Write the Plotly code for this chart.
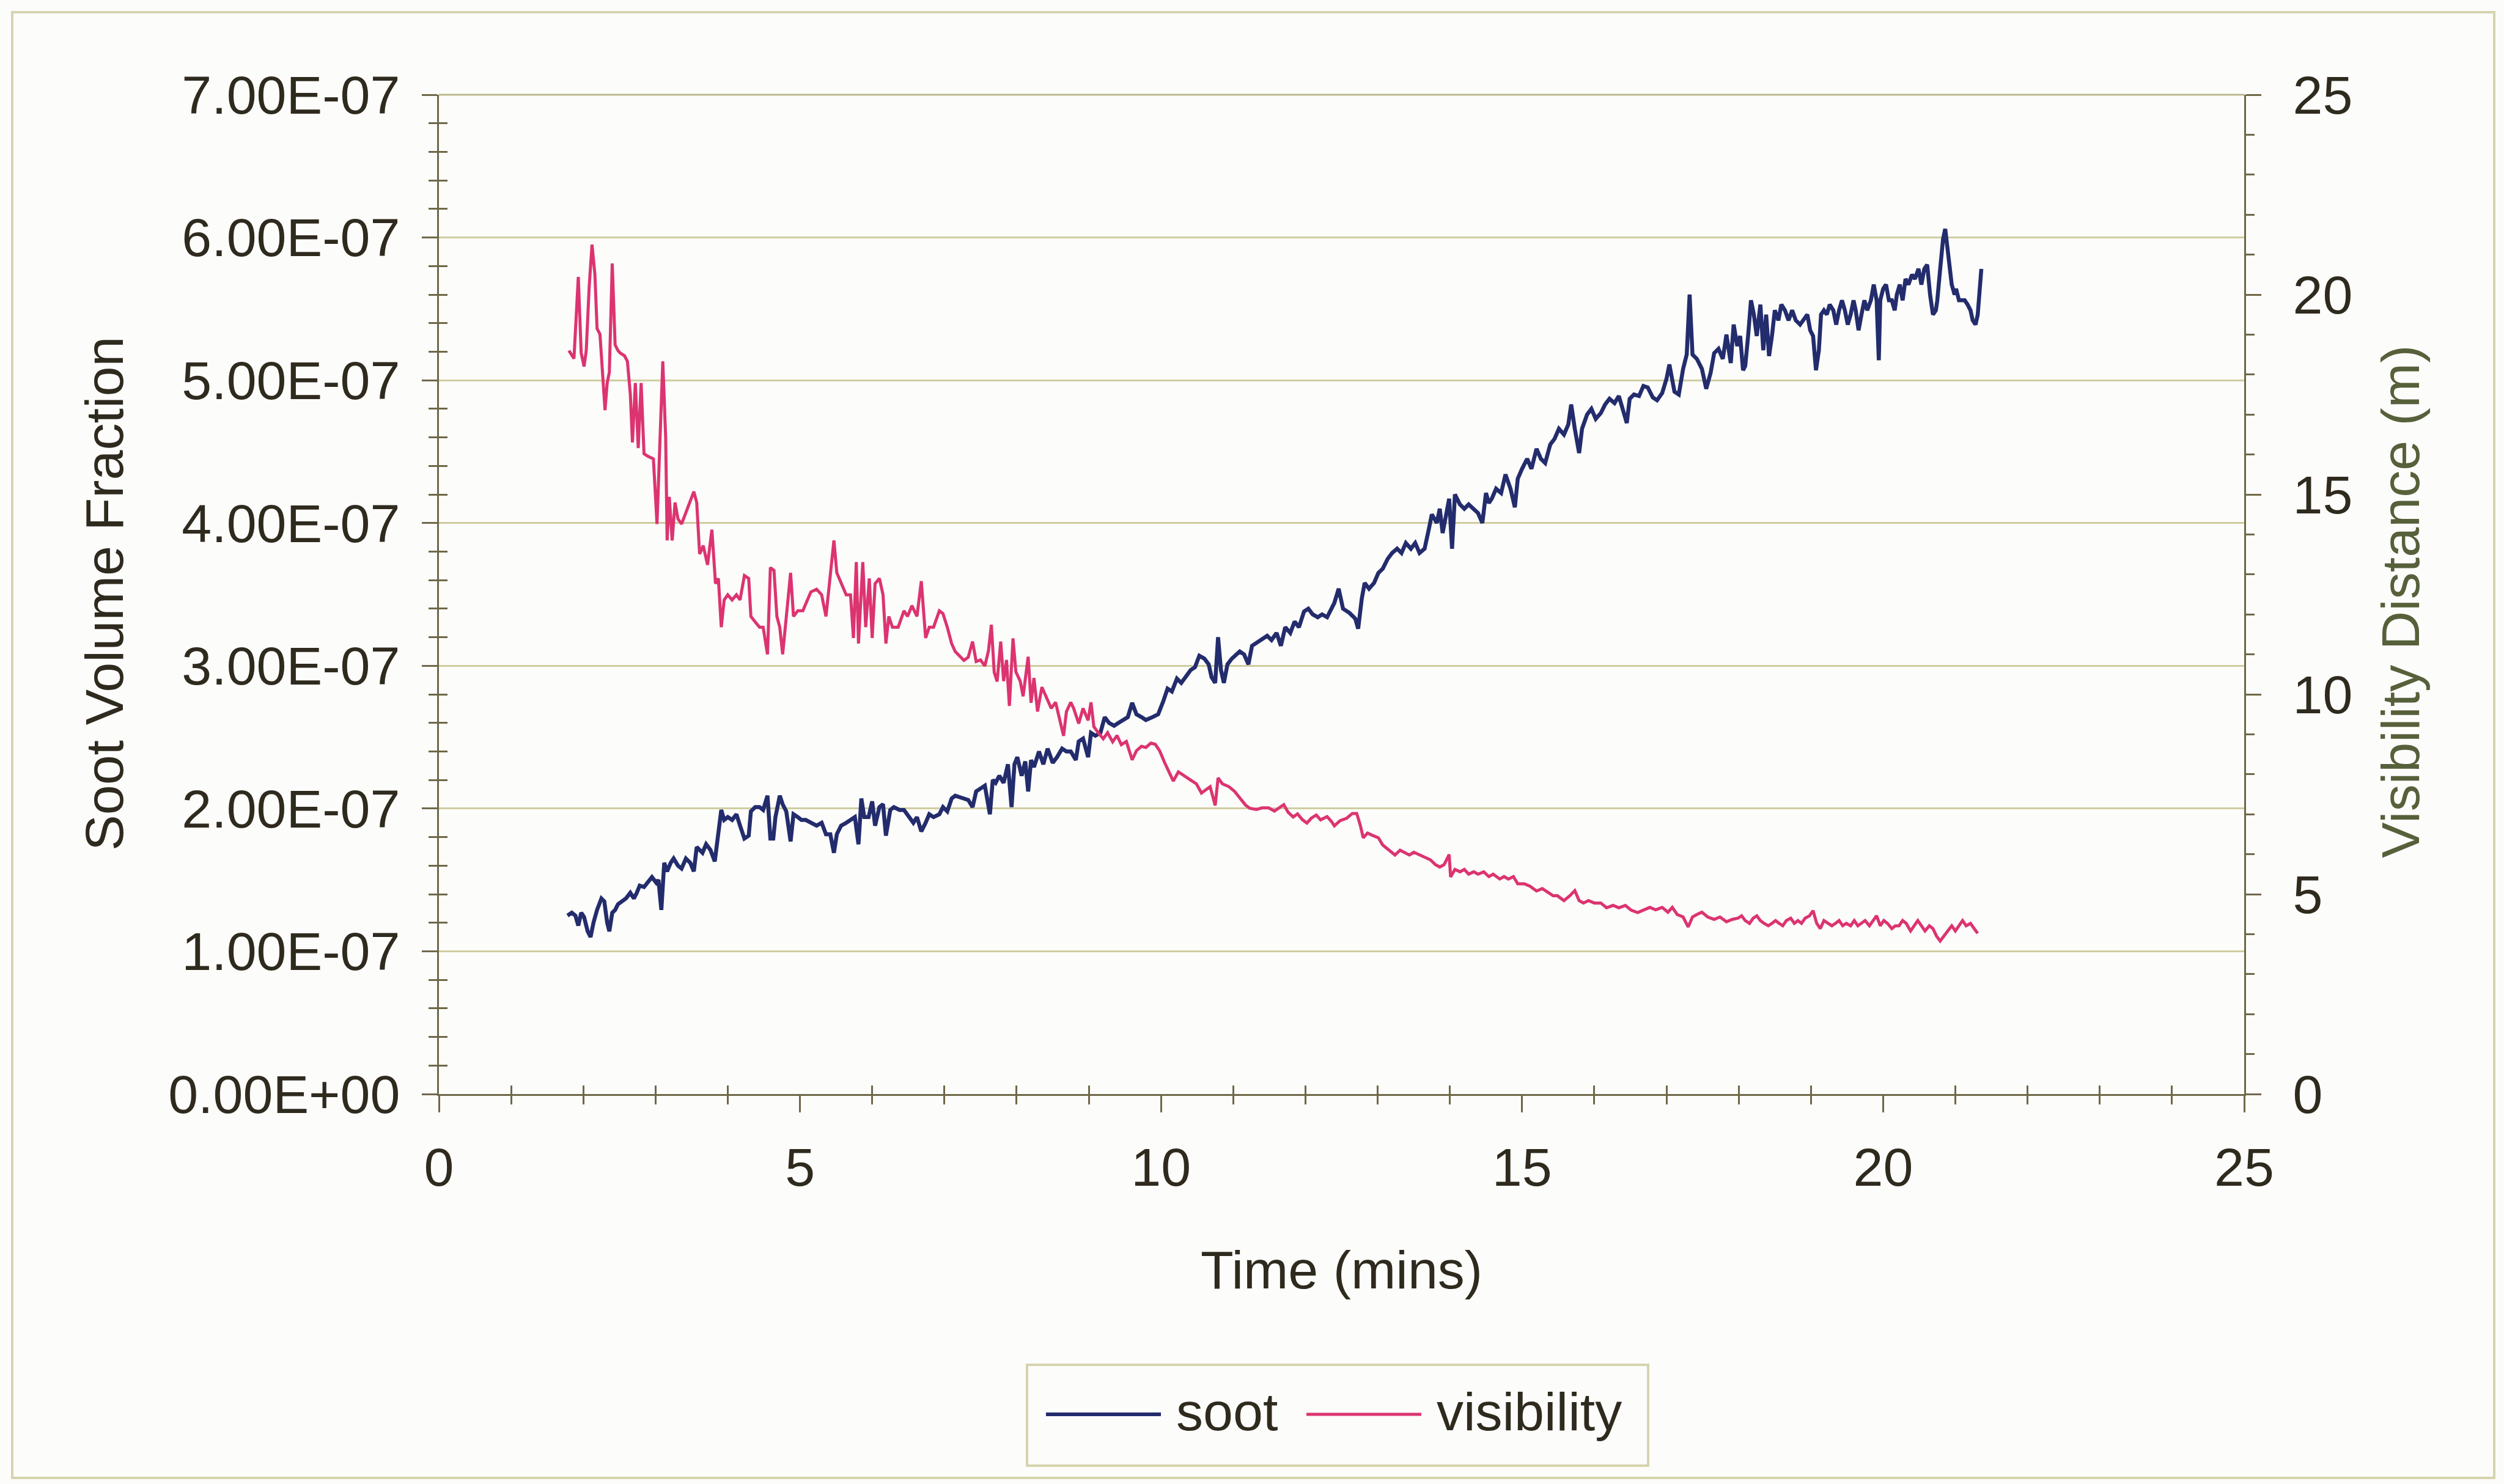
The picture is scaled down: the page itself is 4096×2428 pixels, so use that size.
import plotly.graph_objects as go

# ---------------------------------------------------------------------------
# Measured series: soot volume fraction (left axis) and visibility (right axis)
# ---------------------------------------------------------------------------
SOOT_TIME = [
    1.78, 1.84, 1.89, 1.93, 1.97, 2.01, 2.06, 2.10, 2.14, 2.19, 2.25, 2.29, 2.33, 2.36, 2.40,
    2.44, 2.48, 2.53, 2.59, 2.65, 2.70, 2.74, 2.78, 2.84, 2.89, 2.95, 3.01, 3.04, 3.08, 3.12,
    3.16, 3.21, 3.25, 3.31, 3.36, 3.42, 3.48, 3.53, 3.57, 3.61, 3.65, 3.70, 3.76, 3.82, 3.87,
    3.91, 3.95, 4.00, 4.06, 4.12, 4.17, 4.23, 4.29, 4.32, 4.38, 4.44, 4.49, 4.55, 4.59, 4.63,
    4.66, 4.72, 4.76, 4.81, 4.87, 4.91, 4.97, 5.02, 5.08, 5.15, 5.23, 5.30, 5.36, 5.42, 5.47,
    5.51, 5.57, 5.64, 5.70, 5.76, 5.81, 5.85, 5.89, 5.95, 6.00, 6.04, 6.10, 6.15, 6.19, 6.25,
    6.30, 6.38, 6.44, 6.51, 6.57, 6.62, 6.68, 6.74, 6.79, 6.85, 6.93, 6.98, 7.04, 7.10, 7.15,
    7.27, 7.33, 7.39, 7.44, 7.50, 7.56, 7.63, 7.67, 7.71, 7.76, 7.82, 7.88, 7.93, 7.97, 8.01,
    8.07, 8.12, 8.16, 8.20, 8.24, 8.31, 8.37, 8.43, 8.50, 8.56, 8.63, 8.69, 8.75, 8.82, 8.86,
    8.92, 8.99, 9.03, 9.09, 9.16, 9.22, 9.28, 9.35, 9.41, 9.47, 9.54, 9.60, 9.66, 9.73, 9.79,
    9.88, 9.96, 10.03, 10.09, 10.15, 10.22, 10.28, 10.34, 10.41, 10.47, 10.53, 10.60, 10.66, 10.70, 10.75,
    10.79, 10.83, 10.87, 10.92, 10.98, 11.02, 11.09, 11.15, 11.21, 11.26, 11.32, 11.40, 11.47, 11.53, 11.60,
    11.66, 11.72, 11.79, 11.85, 11.91, 11.98, 12.04, 12.10, 12.17, 12.23, 12.30, 12.36, 12.40, 12.46, 12.52,
    12.61, 12.69, 12.73, 12.78, 12.82, 12.88, 12.95, 13.01, 13.07, 13.14, 13.20, 13.27, 13.33, 13.39, 13.46,
    13.52, 13.58, 13.65, 13.71, 13.75, 13.82, 13.86, 13.90, 13.94, 13.99, 14.03, 14.07, 14.14, 14.20, 14.26,
    14.33, 14.39, 14.45, 14.50, 14.54, 14.58, 14.64, 14.71, 14.77, 14.84, 14.90, 14.94, 15.00, 15.07, 15.13,
    15.20, 15.26, 15.32, 15.39, 15.45, 15.51, 15.58, 15.64, 15.68, 15.73, 15.79, 15.83, 15.90, 15.96, 16.02,
    16.09, 16.15, 16.21, 16.28, 16.34, 16.41, 16.45, 16.49, 16.55, 16.62, 16.68, 16.74, 16.81, 16.87, 16.94,
    17.00, 17.04, 17.11, 17.17, 17.23, 17.28, 17.32, 17.36, 17.42, 17.49, 17.55, 17.61, 17.66, 17.72, 17.78,
    17.83, 17.89, 17.93, 17.98, 18.02, 18.06, 18.09, 18.13, 18.17, 18.21, 18.25, 18.30, 18.34, 18.38, 18.42,
    18.46, 18.50, 18.55, 18.59, 18.64, 18.69, 18.74, 18.79, 18.85, 18.90, 18.95, 18.99, 19.03, 19.07, 19.11,
    19.14, 19.18, 19.22, 19.26, 19.31, 19.35, 19.39, 19.43, 19.47, 19.51, 19.55, 19.59, 19.62, 19.66, 19.70,
    19.74, 19.78, 19.83, 19.87, 19.91, 19.94, 19.96, 20.00, 20.04, 20.08, 20.12, 20.16, 20.19, 20.23, 20.27,
    20.31, 20.35, 20.40, 20.44, 20.49, 20.53, 20.57, 20.61, 20.65, 20.69, 20.73, 20.75, 20.79, 20.83, 20.86,
    20.88, 20.91, 20.95, 20.99, 21.01, 21.05, 21.09, 21.13, 21.17, 21.21, 21.24, 21.28, 21.31, 21.34, 21.36,
]

SOOT_FRACTION = [
    1.25e-7, 1.27e-7, 1.25e-7, 1.18e-7, 1.27e-7, 1.24e-7, 1.14e-7, 1.10e-7, 1.20e-7, 1.29e-7, 1.37e-7, 1.35e-7, 1.20e-7, 1.14e-7, 1.27e-7,
    1.29e-7, 1.33e-7, 1.35e-7, 1.37e-7, 1.41e-7, 1.37e-7, 1.41e-7, 1.46e-7, 1.45e-7, 1.48e-7, 1.52e-7, 1.48e-7, 1.50e-7, 1.29e-7, 1.62e-7,
    1.56e-7, 1.62e-7, 1.65e-7, 1.60e-7, 1.58e-7, 1.65e-7, 1.62e-7, 1.56e-7, 1.73e-7, 1.71e-7, 1.69e-7, 1.75e-7, 1.71e-7, 1.63e-7, 1.86e-7,
    1.99e-7, 1.92e-7, 1.94e-7, 1.92e-7, 1.96e-7, 1.88e-7, 1.79e-7, 1.81e-7, 1.98e-7, 2.01e-7, 2.01e-7, 1.99e-7, 2.09e-7, 1.79e-7, 1.79e-7,
    1.94e-7, 2.09e-7, 2.03e-7, 1.98e-7, 1.77e-7, 1.96e-7, 1.94e-7, 1.92e-7, 1.92e-7, 1.90e-7, 1.88e-7, 1.90e-7, 1.82e-7, 1.82e-7, 1.69e-7,
    1.82e-7, 1.88e-7, 1.90e-7, 1.92e-7, 1.94e-7, 1.75e-7, 2.07e-7, 1.94e-7, 1.94e-7, 2.05e-7, 1.88e-7, 2.01e-7, 2.03e-7, 1.81e-7, 1.99e-7,
    2.01e-7, 1.99e-7, 1.99e-7, 1.94e-7, 1.90e-7, 1.94e-7, 1.84e-7, 1.90e-7, 1.96e-7, 1.94e-7, 1.96e-7, 2.01e-7, 1.98e-7, 2.07e-7, 2.09e-7,
    2.07e-7, 2.06e-7, 2.01e-7, 2.12e-7, 2.14e-7, 2.16e-7, 1.96e-7, 2.20e-7, 2.18e-7, 2.23e-7, 2.18e-7, 2.31e-7, 2.01e-7, 2.31e-7, 2.36e-7,
    2.23e-7, 2.33e-7, 2.12e-7, 2.34e-7, 2.29e-7, 2.40e-7, 2.31e-7, 2.42e-7, 2.32e-7, 2.36e-7, 2.42e-7, 2.40e-7, 2.40e-7, 2.34e-7, 2.47e-7,
    2.49e-7, 2.36e-7, 2.53e-7, 2.51e-7, 2.53e-7, 2.64e-7, 2.60e-7, 2.58e-7, 2.60e-7, 2.62e-7, 2.64e-7, 2.74e-7, 2.66e-7, 2.64e-7, 2.62e-7,
    2.64e-7, 2.66e-7, 2.75e-7, 2.84e-7, 2.82e-7, 2.91e-7, 2.88e-7, 2.92e-7, 2.97e-7, 2.99e-7, 3.07e-7, 3.05e-7, 3.01e-7, 2.92e-7, 2.88e-7,
    3.20e-7, 2.97e-7, 2.88e-7, 3.01e-7, 3.05e-7, 3.07e-7, 3.10e-7, 3.08e-7, 3.01e-7, 3.14e-7, 3.16e-7, 3.18e-7, 3.21e-7, 3.18e-7, 3.23e-7,
    3.14e-7, 3.27e-7, 3.23e-7, 3.31e-7, 3.27e-7, 3.38e-7, 3.40e-7, 3.36e-7, 3.34e-7, 3.36e-7, 3.34e-7, 3.40e-7, 3.44e-7, 3.54e-7, 3.40e-7,
    3.37e-7, 3.33e-7, 3.26e-7, 3.47e-7, 3.58e-7, 3.54e-7, 3.58e-7, 3.65e-7, 3.68e-7, 3.75e-7, 3.79e-7, 3.82e-7, 3.79e-7, 3.86e-7, 3.82e-7,
    3.86e-7, 3.79e-7, 3.82e-7, 3.96e-7, 4.06e-7, 4.00e-7, 4.10e-7, 3.93e-7, 4.03e-7, 4.17e-7, 3.82e-7, 4.20e-7, 4.13e-7, 4.10e-7, 4.13e-7,
    4.10e-7, 4.07e-7, 4.00e-7, 4.21e-7, 4.14e-7, 4.17e-7, 4.24e-7, 4.21e-7, 4.34e-7, 4.24e-7, 4.11e-7, 4.31e-7, 4.38e-7, 4.45e-7, 4.38e-7,
    4.52e-7, 4.45e-7, 4.42e-7, 4.55e-7, 4.59e-7, 4.66e-7, 4.62e-7, 4.69e-7, 4.83e-7, 4.66e-7, 4.49e-7, 4.66e-7, 4.76e-7, 4.80e-7, 4.73e-7,
    4.77e-7, 4.83e-7, 4.87e-7, 4.84e-7, 4.89e-7, 4.77e-7, 4.70e-7, 4.87e-7, 4.90e-7, 4.89e-7, 4.96e-7, 4.95e-7, 4.88e-7, 4.86e-7, 4.91e-7,
    5.01e-7, 5.11e-7, 4.92e-7, 4.90e-7, 5.08e-7, 5.18e-7, 5.60e-7, 5.18e-7, 5.15e-7, 5.08e-7, 4.94e-7, 5.05e-7, 5.19e-7, 5.22e-7, 5.15e-7,
    5.32e-7, 5.12e-7, 5.39e-7, 5.24e-7, 5.31e-7, 5.07e-7, 5.10e-7, 5.31e-7, 5.56e-7, 5.46e-7, 5.31e-7, 5.53e-7, 5.21e-7, 5.46e-7, 5.17e-7,
    5.31e-7, 5.49e-7, 5.42e-7, 5.53e-7, 5.49e-7, 5.42e-7, 5.49e-7, 5.42e-7, 5.39e-7, 5.42e-7, 5.46e-7, 5.35e-7, 5.31e-7, 5.07e-7, 5.21e-7,
    5.46e-7, 5.49e-7, 5.46e-7, 5.53e-7, 5.49e-7, 5.39e-7, 5.49e-7, 5.56e-7, 5.49e-7, 5.39e-7, 5.46e-7, 5.56e-7, 5.49e-7, 5.35e-7, 5.46e-7,
    5.56e-7, 5.49e-7, 5.56e-7, 5.67e-7, 5.56e-7, 5.14e-7, 5.56e-7, 5.64e-7, 5.67e-7, 5.56e-7, 5.56e-7, 5.49e-7, 5.60e-7, 5.67e-7, 5.56e-7,
    5.71e-7, 5.67e-7, 5.74e-7, 5.71e-7, 5.78e-7, 5.67e-7, 5.78e-7, 5.81e-7, 5.60e-7, 5.46e-7, 5.49e-7, 5.56e-7, 5.78e-7, 5.99e-7, 6.06e-7,
    5.96e-7, 5.85e-7, 5.67e-7, 5.60e-7, 5.64e-7, 5.56e-7, 5.56e-7, 5.56e-7, 5.53e-7, 5.49e-7, 5.42e-7, 5.39e-7, 5.46e-7, 5.64e-7, 5.78e-7,
]

VIS_TIME = [
    1.80, 1.87, 1.93, 1.97, 2.01, 2.04, 2.08, 2.12, 2.16, 2.19, 2.23, 2.27, 2.30, 2.33, 2.36,
    2.40, 2.44, 2.48, 2.51, 2.57, 2.61, 2.65, 2.68, 2.72, 2.76, 2.80, 2.84, 2.89, 2.97, 3.02,
    3.06, 3.10, 3.14, 3.16, 3.19, 3.23, 3.27, 3.31, 3.36, 3.42, 3.48, 3.53, 3.57, 3.61, 3.66,
    3.72, 3.78, 3.83, 3.87, 3.91, 3.95, 4.00, 4.06, 4.12, 4.17, 4.23, 4.29, 4.32, 4.38, 4.44,
    4.49, 4.55, 4.59, 4.64, 4.68, 4.72, 4.76, 4.81, 4.87, 4.91, 4.97, 5.04, 5.10, 5.15, 5.23,
    5.30, 5.36, 5.42, 5.47, 5.51, 5.57, 5.64, 5.70, 5.74, 5.78, 5.81, 5.87, 5.91, 5.96, 6.00,
    6.04, 6.10, 6.15, 6.19, 6.23, 6.28, 6.36, 6.44, 6.49, 6.55, 6.62, 6.68, 6.74, 6.79, 6.85,
    6.93, 6.98, 7.04, 7.10, 7.15, 7.27, 7.33, 7.39, 7.44, 7.50, 7.56, 7.61, 7.65, 7.69, 7.73,
    7.78, 7.82, 7.86, 7.90, 7.95, 7.99, 8.05, 8.09, 8.16, 8.20, 8.24, 8.29, 8.35, 8.41, 8.48,
    8.54, 8.60, 8.65, 8.69, 8.75, 8.79, 8.86, 8.92, 8.99, 9.03, 9.07, 9.13, 9.20, 9.26, 9.33,
    9.39, 9.45, 9.52, 9.60, 9.66, 9.73, 9.79, 9.86, 9.92, 9.98, 10.05, 10.11, 10.17, 10.24, 10.30,
    10.36, 10.43, 10.49, 10.56, 10.62, 10.68, 10.75, 10.79, 10.85, 10.94, 11.02, 11.11, 11.17, 11.23, 11.32,
    11.40, 11.49, 11.57, 11.64, 11.70, 11.76, 11.83, 11.89, 11.96, 12.02, 12.08, 12.15, 12.21, 12.30, 12.36,
    12.40, 12.48, 12.57, 12.65, 12.71, 12.76, 12.80, 12.86, 12.93, 13.01, 13.07, 13.16, 13.24, 13.31, 13.37,
    13.44, 13.50, 13.58, 13.67, 13.73, 13.80, 13.86, 13.92, 13.99, 14.01, 14.07, 14.14, 14.20, 14.26, 14.33,
    14.39, 14.47, 14.54, 14.60, 14.69, 14.75, 14.81, 14.88, 14.94, 15.03, 15.11, 15.20, 15.28, 15.37, 15.43,
    15.49, 15.58, 15.66, 15.73, 15.79, 15.85, 15.92, 16.00, 16.09, 16.17, 16.26, 16.34, 16.43, 16.51, 16.60,
    16.68, 16.77, 16.85, 16.94, 17.02, 17.08, 17.15, 17.23, 17.30, 17.36, 17.42, 17.49, 17.57, 17.66, 17.74,
    17.83, 17.91, 17.99, 18.04, 18.09, 18.15, 18.20, 18.25, 18.30, 18.35, 18.41, 18.46, 18.51, 18.56, 18.61,
    18.66, 18.72, 18.77, 18.82, 18.87, 18.92, 18.98, 19.03, 19.08, 19.13, 19.18, 19.24, 19.29, 19.34, 19.39,
    19.44, 19.49, 19.55, 19.60, 19.65, 19.70, 19.75, 19.81, 19.86, 19.91, 19.96, 20.01, 20.06, 20.12, 20.17,
    20.22, 20.27, 20.32, 20.38, 20.43, 20.48, 20.53, 20.58, 20.64, 20.69, 20.74, 20.79, 20.84, 20.89, 20.95,
    21.00, 21.05, 21.10, 21.15, 21.21, 21.26, 21.31,
]

VIS_DISTANCE = [
    18.60, 18.40, 20.44, 18.54, 18.20, 18.60, 20.17, 21.25, 20.50, 19.15, 19.01, 17.79, 17.11, 17.79, 18.06,
    20.78, 18.74, 18.60, 18.54, 18.47, 18.33, 17.52, 16.30, 17.79, 16.16, 17.79, 16.02, 15.96, 15.89, 14.26,
    16.43, 18.33, 16.43, 13.85, 14.94, 13.85, 14.80, 14.39, 14.26, 14.53, 14.80, 15.07, 14.80, 13.51, 13.72,
    13.24, 14.12, 12.77, 12.90, 11.68, 12.36, 12.49, 12.36, 12.49, 12.36, 12.97, 12.90, 11.95, 11.81, 11.68,
    11.68, 11.00, 13.17, 13.10, 11.95, 11.68, 11.00, 11.95, 13.04, 11.95, 12.09, 12.09, 12.36, 12.56, 12.63,
    12.49, 11.95, 12.90, 13.85, 13.04, 12.77, 12.49, 12.49, 11.41, 13.31, 11.27, 13.31, 11.68, 12.90, 11.41,
    12.77, 12.90, 12.49, 11.27, 11.95, 11.68, 11.68, 12.09, 11.95, 12.22, 11.95, 12.83, 11.41, 11.68, 11.68,
    12.09, 12.02, 11.68, 11.27, 11.07, 10.85, 10.93, 11.32, 10.82, 10.86, 10.71, 11.09, 11.74, 10.55, 10.32,
    11.32, 10.33, 10.86, 9.71, 11.40, 10.56, 10.33, 9.95, 10.94, 9.79, 10.41, 9.57, 10.18, 9.95, 9.65,
    9.80, 9.34, 8.96, 9.57, 9.80, 9.65, 9.27, 9.65, 9.35, 9.80, 9.19, 9.04, 8.89, 9.04, 8.81,
    8.97, 8.74, 8.82, 8.36, 8.59, 8.70, 8.67, 8.78, 8.75, 8.59, 8.29, 8.06, 7.83, 8.06, 7.98,
    7.91, 7.83, 7.76, 7.53, 7.61, 7.69, 7.22, 7.91, 7.76, 7.69, 7.57, 7.38, 7.23, 7.15, 7.12,
    7.16, 7.16, 7.08, 7.16, 7.24, 7.05, 6.93, 7.01, 6.86, 6.78, 6.90, 6.98, 6.86, 6.94, 6.82,
    6.71, 6.84, 6.90, 7.02, 7.02, 6.72, 6.41, 6.53, 6.47, 6.41, 6.23, 6.10, 5.98, 6.10, 6.04,
    5.98, 6.05, 5.98, 5.92, 5.86, 5.74, 5.68, 5.74, 5.99, 5.43, 5.62, 5.56, 5.62, 5.50, 5.56,
    5.50, 5.56, 5.44, 5.50, 5.38, 5.44, 5.38, 5.44, 5.26, 5.26, 5.20, 5.08, 5.14, 5.02, 4.96,
    4.96, 4.84, 4.96, 5.09, 4.84, 4.78, 4.84, 4.78, 4.78, 4.66, 4.72, 4.66, 4.72, 4.60, 4.54,
    4.60, 4.67, 4.61, 4.67, 4.55, 4.67, 4.49, 4.43, 4.18, 4.43, 4.49, 4.55, 4.43, 4.37, 4.43,
    4.31, 4.37, 4.40, 4.46, 4.34, 4.27, 4.40, 4.46, 4.34, 4.27, 4.21, 4.27, 4.34, 4.27, 4.21,
    4.34, 4.40, 4.27, 4.34, 4.27, 4.40, 4.46, 4.59, 4.27, 4.14, 4.34, 4.27, 4.21, 4.27, 4.34,
    4.21, 4.27, 4.21, 4.34, 4.21, 4.27, 4.34, 4.21, 4.34, 4.46, 4.21, 4.34, 4.27, 4.14, 4.21,
    4.21, 4.34, 4.27, 4.08, 4.21, 4.34, 4.21, 4.08, 4.21, 4.14, 3.95, 3.83, 3.95, 4.08, 4.21,
    4.08, 4.21, 4.34, 4.21, 4.27, 4.14, 4.02,
]

# Axis ticks
TIME_TICKS = [0, 5, 10, 15, 20, 25]
SOOT_TICKS = [0.0, 1e-7, 2e-7, 3e-7, 4e-7, 5e-7, 6e-7, 7e-7]
SOOT_TICK_TEXT = [f"{v:.2E}" for v in SOOT_TICKS]
VIS_TICKS = [0, 5, 10, 15, 20, 25]

# ---------------------------------------------------------------------------
# Styling
# ---------------------------------------------------------------------------
W, H = 4096, 2428
PLOT_L, PLOT_R, PLOT_T, PLOT_B = 718, 3671, 155, 1790

NAVY = "#232c6c"
PINK = "#dc3470"
TEXT = "#2f2a1e"
AXIS = "#6e6848"
GRID = "#cfcd9f"
FRAME = "#d6d4ae"
BG = "#fcfcfb"
FONT = "Liberation Sans, Arial, sans-serif"
TICK_SIZE = 88
TITLE_SIZE = 88


def fx(x_px):
    """Pixel column -> paper x coordinate."""
    return (x_px - PLOT_L) / (PLOT_R - PLOT_L)


def fy(y_px):
    """Pixel row -> paper y coordinate."""
    return (PLOT_B - y_px) / (PLOT_B - PLOT_T)


fig = go.Figure()

fig.add_trace(go.Scatter(
    x=SOOT_TIME, y=SOOT_FRACTION, name="soot", mode="lines",
    line=dict(color=NAVY, width=6.5), xaxis="x", yaxis="y", showlegend=False,
))
fig.add_trace(go.Scatter(
    x=VIS_TIME, y=VIS_DISTANCE, name="visibility", mode="lines",
    line=dict(color=PINK, width=5), xaxis="x", yaxis="y2", showlegend=False,
))
# empty trace that keeps the inner-tick helper axes alive
fig.add_trace(go.Scatter(x=[], y=[], xaxis="x2", yaxis="y3", showlegend=False,
                         hoverinfo="skip"))

tick_font = dict(family=FONT, size=TICK_SIZE, color=TEXT)
minor_out = dict(ticks="outside", ticklen=14, tickwidth=3, tickcolor=AXIS, showgrid=False)
minor_in = dict(ticks="inside", ticklen=14, tickwidth=3, tickcolor=AXIS, showgrid=False)

fig.update_layout(
    width=W, height=H,
    margin=dict(l=PLOT_L, r=W - PLOT_R, t=PLOT_T, b=H - PLOT_B, pad=0),
    paper_bgcolor=BG, plot_bgcolor=BG,
    showlegend=False,
    xaxis=dict(
        range=[0, 25], tickvals=TIME_TICKS, ticks="outside", ticklen=27, tickwidth=3,
        tickcolor=AXIS, showline=True, linecolor=AXIS, linewidth=3, showgrid=False,
        zeroline=False, tickfont=tick_font, ticklabelstandoff=14,
        minor=dict(dtick=1, tick0=0, **minor_out), anchor="y",
    ),
    xaxis2=dict(
        range=[0, 25], overlaying="x", anchor="y3", showticklabels=False, showline=False,
        showgrid=False, zeroline=False, ticks="", minor=dict(dtick=1, tick0=0, **minor_in),
    ),
    yaxis=dict(
        range=[0, 7e-7], tickvals=SOOT_TICKS, ticktext=SOOT_TICK_TEXT, ticks="outside",
        ticklen=25, tickwidth=3, tickcolor=AXIS, showline=True, linecolor=AXIS, linewidth=3,
        showgrid=True, gridcolor=GRID, gridwidth=3, zeroline=False, tickfont=tick_font,
        ticklabelstandoff=18, minor=dict(dtick=2e-8, tick0=0, **minor_out), anchor="x",
    ),
    yaxis2=dict(
        range=[0, 25], tickvals=VIS_TICKS, overlaying="y", side="right", ticks="outside",
        ticklen=25, tickwidth=3, tickcolor=AXIS, showline=True, linecolor=AXIS, linewidth=3,
        showgrid=False, zeroline=False, tickfont=tick_font, ticklabelstandoff=34,
        minor=dict(dtick=1, tick0=0, **minor_out), anchor="x",
    ),
    yaxis3=dict(
        range=[0, 7e-7], overlaying="y", side="left", anchor="x2", showticklabels=False,
        showline=False, showgrid=False, zeroline=False, ticks="",
        minor=dict(dtick=2e-8, tick0=0, **minor_in),
    ),
    yaxis4=dict(
        range=[0, 25], overlaying="y", side="right", anchor="x2", showticklabels=False,
        showline=False, showgrid=False, zeroline=False, ticks="",
        minor=dict(dtick=1, tick0=0, **minor_in),
    ),
)

# Axis titles and legend labels
title_font = dict(family=FONT, size=TITLE_SIZE, color=TEXT)
annotations = [
    dict(text="Soot Volume Fraction", x=fx(170), y=fy(972), textangle=-90,
         font=title_font),
    dict(text="Visibility Distance (m)", x=fx(3926), y=fy(985), textangle=-90,
         font=dict(family=FONT, size=TITLE_SIZE, color="#56603a")),
    dict(text="Time (mins)", x=0.5, y=fy(2077), font=title_font),
    dict(text="soot", x=fx(1922), y=fy(2309), xanchor="left", font=title_font),
    dict(text="visibility", x=fx(2348), y=fy(2309), xanchor="left", font=title_font),
]
for a in annotations:
    a.setdefault("xanchor", "center")
    a.update(xref="paper", yref="paper", yanchor="middle", showarrow=False)
fig.update_layout(annotations=annotations)

shapes = [
    # top edge of the plot area (the 7.00E-07 grid line)
    dict(type="line", x0=0, x1=1, y0=1, y1=1, line=dict(color="#bdb98c", width=3),
         layer="below"),
    # outer chart frame
    dict(type="rect", x0=fx(20), x1=fx(4080), y0=fy(2418), y1=fy(20),
         line=dict(color=FRAME, width=4)),
    # legend box
    dict(type="rect", x0=fx(1680), x1=fx(2696), y0=fy(2398), y1=fy(2233),
         line=dict(color=FRAME, width=4)),
    # legend line samples
    dict(type="line", x0=fx(1711), x1=fx(1899), y0=fy(2314), y1=fy(2314),
         line=dict(color=NAVY, width=6)),
    dict(type="line", x0=fx(2137), x1=fx(2325), y0=fy(2314), y1=fy(2314),
         line=dict(color=PINK, width=5)),
]
for s in shapes:
    s.update(xref="paper", yref="paper")
    s.setdefault("layer", "above")
fig.update_layout(shapes=shapes)

fig.write_html("out.html")
